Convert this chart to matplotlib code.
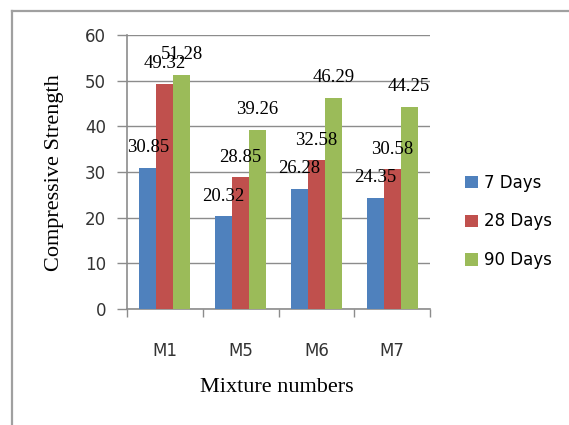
import numpy as np
import matplotlib
matplotlib.use("Agg")
import matplotlib.pyplot as plt
from matplotlib.lines import Line2D
from matplotlib.patches import Patch

# compressive strength per mixture and curing age
mixtures = ["M1", "M5", "M6", "M7"]
series_names = ["7 Days", "28 Days", "90 Days"]
days_7 = [30.85, 20.32, 26.28, 24.35]
days_28 = [49.32, 28.85, 32.58, 30.58]
days_90 = [51.28, 39.26, 46.29, 44.25]
y_ticks = [0, 10, 20, 30, 40, 50, 60]

colors = ["#4F81BD", "#C0504D", "#9BBB59"]
grid_gray = "#8C8C8C"

fig = plt.figure(figsize=(5.69, 4.25), dpi=100)
fig.patch.set_facecolor("white")

# outer chart frame (only top and left edges fall inside the image)
fig.add_artist(Line2D([12 / 569, 1.0], [1 - 11 / 425, 1 - 11 / 425],
                      transform=fig.transFigure, color="#A0A0A0", lw=1.6))
fig.add_artist(Line2D([12 / 569, 12 / 569], [0.0, 1 - 11 / 425],
                      transform=fig.transFigure, color="#A0A0A0", lw=1.6))

ax = fig.add_axes([127 / 569, 1 - 309 / 425, (430 - 127) / 569, (309 - 35) / 425])

x = np.arange(len(mixtures))
width = 0.224
for i, (vals, name, col) in enumerate(zip([days_7, days_28, days_90], series_names, colors)):
    pos = x + (i - 1) * width
    ax.bar(pos, vals, width=width, color=col, label=name, zorder=3)
    for xp, v in zip(pos, vals):
        ax.annotate(f"{v:.2f}", (xp, v), xytext=(0, 14.5), textcoords="offset points",
                    ha="center", va="center", fontsize=13.5,
                    family="Liberation Serif", color="black", zorder=4)

ax.set_xlim(-0.5, len(mixtures) - 0.5)
ax.set_ylim(0, 60)
ax.set_yticks(y_ticks)
ax.set_yticklabels([str(t) for t in y_ticks], fontsize=12, color="#333333")
ax.set_xticks(np.arange(-0.5, len(mixtures)), minor=False)
ax.set_xticklabels([])
ax.set_xticks(x, minor=True)
ax.set_xticklabels(mixtures, minor=True, fontsize=12, color="#333333")
ax.tick_params(axis="x", which="major", length=6, width=1, color=grid_gray, direction="out")
ax.tick_params(axis="x", which="minor", length=0, pad=24)
ax.tick_params(axis="y", length=7, width=1, color=grid_gray, pad=8)

ax.yaxis.grid(True, color=grid_gray, lw=1, zorder=0)
ax.set_axisbelow(True)
for side in ["top", "right"]:
    ax.spines[side].set_visible(False)
for side in ["left", "bottom"]:
    ax.spines[side].set_color(grid_gray)
    ax.spines[side].set_linewidth(1.2)

fig.text(55 / 569, 1 - 173 / 425, "Compressive Strength", rotation=90,
         ha="center", va="center", fontsize=16, family="Liberation Serif")
fig.text(277 / 569, 1 - 388 / 425, "Mixture numbers",
         ha="center", va="center", fontsize=16, family="Liberation Serif")

handles = [Patch(facecolor=c, edgecolor="none") for c in colors]
fig.legend(handles, series_names, loc="center left",
           bbox_to_anchor=(465 / 569, 1 - 221.5 / 425), frameon=False,
           fontsize=12, handlelength=0.75, handleheight=0.75,
           handletextpad=0.4, labelspacing=1.25, borderpad=0, borderaxespad=0)

fig.savefig("out.png", dpi=100, facecolor="white")
